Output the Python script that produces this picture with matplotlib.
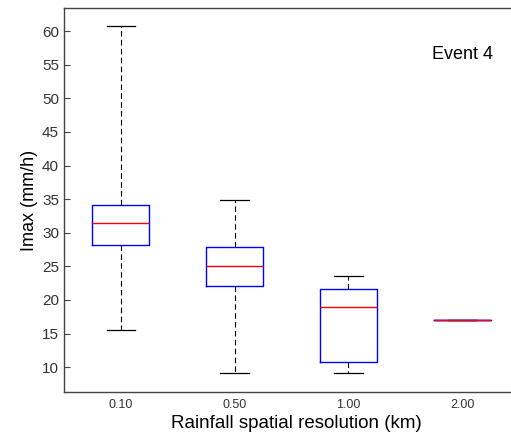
import matplotlib
matplotlib.use("Agg")
import matplotlib.pyplot as plt

# Imax box statistics per rainfall resolution (Event 4)
resolutions = ["0.10", "0.50", "1.00", "2.00"]
whisker_low = [15.5, 9.06, 9.06, 16.95]
q1 = [28.2, 22.1, 10.7, 16.95]
medians = [31.4, 25.1, 18.9, 16.95]
q3 = [34.1, 27.86, 21.65, 16.95]
whisker_high = [60.8, 34.85, 23.6, 16.95]

plt.rcParams['font.family'] = ['Liberation Sans', 'DejaVu Sans']

stats = []
for i, lab in enumerate(resolutions):
    stats.append(dict(label=lab, whislo=whisker_low[i], q1=q1[i], med=medians[i],
                      q3=q3[i], whishi=whisker_high[i], fliers=[]))

fig = plt.figure(figsize=(5.11, 4.34), dpi=100)
ax = fig.add_axes([0.1252, 0.0975, 0.8748, 0.8835])

ax.bxp(stats, positions=[1, 2, 3, 4], widths=0.5, showfliers=False,
       boxprops=dict(color='#0000ff', linewidth=1.0),
       medianprops=dict(color='#ff0000', linewidth=1.0),
       whiskerprops=dict(color='black', linewidth=0.8, linestyle=(0, (5, 3))),
       capprops=dict(color='black', linewidth=0.9),
       capwidths=0.25)

ax.set_xlim(0.5, 4.43)
ax.set_ylim(6.35, 63.4)
ax.set_yticks(range(10, 61, 5))
ax.set_xticks([1, 2, 3, 4])
ax.set_xticklabels(resolutions)

for s in ['left', 'bottom', 'top']:
    ax.spines[s].set_color('#444444')
    ax.spines[s].set_linewidth(1.0)
ax.spines['right'].set_visible(False)
ax.tick_params(axis='y', direction='in', length=4, color='#444444',
               labelsize=11, labelcolor='#333333', pad=3.5)
ax.tick_params(axis='x', length=0, labelsize=9, labelcolor='#333333', pad=5.5)

ax.set_ylabel('Imax (mm/h)', fontsize=13, labelpad=3)
ax.set_xlabel('Rainfall spatial resolution (km)', fontsize=13.5)
ax.xaxis.set_label_coords(0.52, -0.06)
ax.text(4.0, 56.5, 'Event 4', fontsize=13, ha='center', va='center')

fig.savefig('out.png', dpi=100)
